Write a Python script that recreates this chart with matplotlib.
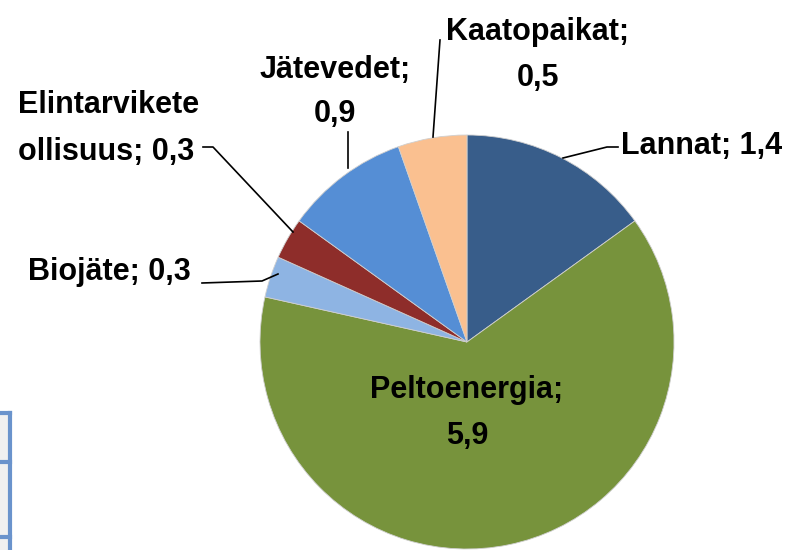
import matplotlib.pyplot as plt
from matplotlib.patches import Rectangle

plt.rcParams['font.family'] = ['Liberation Sans Narrow', 'Liberation Sans', 'DejaVu Sans']

# data (clockwise from 12 o'clock)
categories = ['Lannat', 'Peltoenergia', 'Biojäte', 'Elintarvikete\nollisuus', 'Jätevedet', 'Kaatopaikat']
values = [1.4, 5.9, 0.3, 0.3, 0.9, 0.5]
value_labels = ['1,4', '5,9', '0,3', '0,3', '0,9', '0,5']
colors = ['#385D8A', '#77933C', '#8EB4E3', '#8E2D2A', '#558ED5', '#FAC090']

W, H = 785, 550
fig = plt.figure(figsize=(W / 100, H / 100), dpi=100)
ax = fig.add_axes([0, 0, 1, 1])


def Y(y):
    # image-style y (from top) to data y
    return H - y


cx, cy, r = 467, 342, 207
ax.pie(values, colors=colors, startangle=90, counterclock=False,
       center=(cx, Y(cy)), radius=r, frame=True,
       wedgeprops=dict(edgecolor='#cfcfcf', linewidth=0.6))
ax.set_xlim(0, W)
ax.set_ylim(0, H)
ax.set_aspect('equal')
ax.axis('off')

fs = 22
kw = dict(fontsize=fs, fontweight='bold', color='black')

# Lannat
ax.text(621, Y(146), f'{categories[0]}; {value_labels[0]}', ha='left', va='center', **kw)
ax.plot([563, 607, 618], [Y(158), Y(147), Y(147)], color='black', lw=1.2)

# Peltoenergia (inside)
ax.text(467, Y(390), f'{categories[1]};', ha='center', va='center', **kw)
ax.text(467, Y(436), value_labels[1], ha='center', va='center', **kw)

# Biojäte
ax.text(28, Y(272), f'{categories[2]}; {value_labels[2]}', ha='left', va='center', **kw)
ax.plot([202, 262, 278], [Y(283), Y(281), Y(274)], color='black', lw=1.2)

# Elintarvikete ollisuus
ax.text(18, Y(105), 'Elintarvikete', ha='left', va='center', **kw)
ax.text(18, Y(152), f'ollisuus; {value_labels[3]}', ha='left', va='center', **kw)
ax.plot([203, 213, 293], [Y(147), Y(147), Y(232)], color='black', lw=1.2)

# Jätevedet
ax.text(335, Y(70), f'{categories[4]};', ha='center', va='center', **kw)
ax.text(335, Y(114), value_labels[4], ha='center', va='center', **kw)
ax.plot([348, 348], [Y(132), Y(168)], color='black', lw=1.2)

# Kaatopaikat
ax.text(538, Y(32), f'{categories[5]};', ha='center', va='center', **kw)
ax.text(538, Y(78), value_labels[5], ha='center', va='center', **kw)
ax.plot([440, 433], [Y(40), Y(137)], color='black', lw=1.2)

# partial table at lower left
ax.add_patch(Rectangle((0, 0), 10, Y(413), facecolor='#F0F0F0', edgecolor='none'))
ax.plot([10, 10], [Y(413), 0], color='#6A93CC', lw=3)
for yy in [413, 462, 537]:
    ax.plot([0, 10], [Y(yy), Y(yy)], color='#6A93CC', lw=3)

fig.savefig('out.png', dpi=100)
